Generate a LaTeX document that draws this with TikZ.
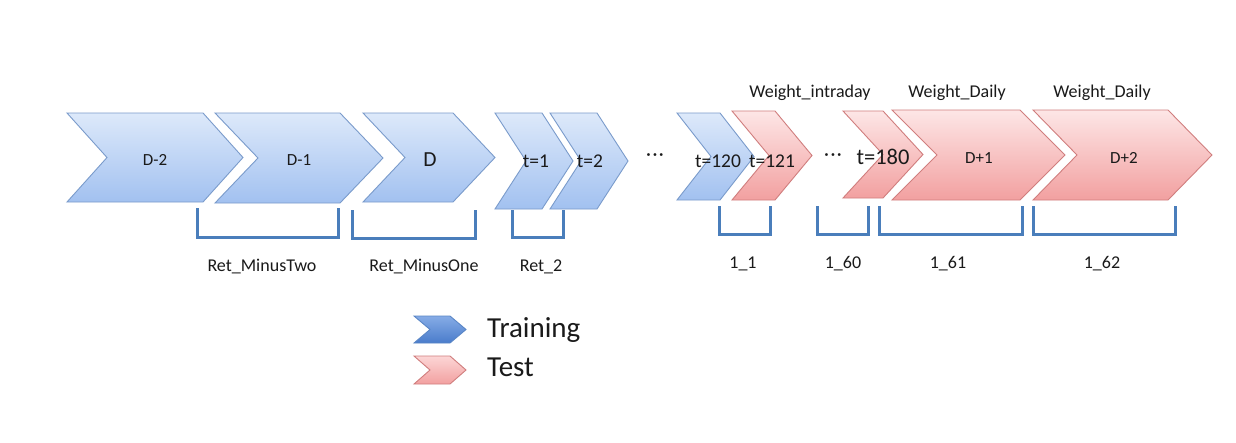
\documentclass[tikz,border=0pt]{standalone}
\usepackage{fontspec}
\setmainfont{Carlito}
\begin{document}
\begin{tikzpicture}[x=1pt,y=-1pt,
  bluechev/.style={draw=chevBlueLine, line width=0.9pt, top color=chevBlueTop, bottom color=chevBlueBot},
  redchev/.style={draw=chevRedLine, line width=0.9pt, top color=chevRedTop, bottom color=chevRedBot},
  legblue/.style={draw=legBlueLine, line width=0.9pt, top color=legBlueTop, bottom color=legBlueBot},
  legred/.style={draw=chevRedLine, line width=0.9pt, top color=legRedTop, bottom color=chevRedBot},
  bracket/.style={draw=brk, line width=3pt},
  lbl/.style={font=\fontsize{18}{20}\selectfont, text=txt, inner sep=0pt},
  inlbl/.style={font=\fontsize{17}{19}\selectfont, text=txt, inner sep=0pt},
  tlbl/.style={font=\fontsize{19.5}{21}\selectfont, text=txt, inner sep=0pt},
  leglbl/.style={font=\fontsize{29}{31}\selectfont, text=txt, inner sep=0pt, anchor=west}]
\definecolor{chevBlueLine}{HTML}{7A9BCB}
\definecolor{chevBlueTop}{HTML}{DDE9FA}
\definecolor{chevBlueBot}{HTML}{A2C1F0}
\definecolor{legBlueLine}{HTML}{5A86C6}
\definecolor{legBlueTop}{HTML}{86ACE6}
\definecolor{legBlueBot}{HTML}{4A7CCB}
\definecolor{chevRedLine}{HTML}{D07E7E}
\definecolor{chevRedTop}{HTML}{FDE6E6}
\definecolor{chevRedBot}{HTML}{F2A0A0}
\definecolor{legRedTop}{HTML}{FCD6D6}
\definecolor{brk}{HTML}{4A7EBB}
\definecolor{txt}{HTML}{1A1A1A}
\newcommand\mychev[6]{% xl, xr, depth, top, bottom, style
  \path[#6] (#1,#4) -- (#2,#4) -- ({#2+#3},{(#4+#5)/2}) -- (#2,#5) -- (#1,#5) -- ({#1+#3},{(#4+#5)/2}) -- cycle;}
\newcommand\mybrk[4]{% xl, xr, top, bottom
  \draw[bracket] (#1,#3) -- (#1,#4) -- (#2,#4) -- (#2,#3);}
\newcommand\middots{\textperiodcentered\kern1.5pt\textperiodcentered\kern1.5pt\textperiodcentered}
\useasboundingbox[fill=white] (0,0) rectangle (1236,442);
% chevrons
\mychev{67}{203}{40}{113}{202}{bluechev}
\mychev{215}{340}{43}{113}{203}{bluechev}
\mychev{363}{453}{42}{113}{202}{bluechev}
\mychev{495}{542}{31}{113}{209}{bluechev}
\mychev{550}{597}{31}{113}{209}{bluechev}
\mychev{677}{720}{34}{113}{200}{bluechev}
\mychev{732}{775}{37}{111}{200}{redchev}
\mychev{843}{883}{40}{111}{198}{redchev}
\mychev{892}{1020}{45}{110}{200}{redchev}
\mychev{1033}{1168}{44}{110}{200}{redchev}
% chevron texts
\node[inlbl] (dm2) at (155,160) {D-2};
\node[inlbl] (dm1) at (299,160) {D-1};
\node[font=\fontsize{21.5}{23}\selectfont, text=txt, inner sep=0pt] (d0) at (430,160) {D};
\node[tlbl] (t1) at (536,161) {t=1};
\node[tlbl] (t2) at (590,161) {t=2};
\node[tlbl] (dots1) at (655,157) {\middots};
\node[tlbl] (t120) at (718,161) {t=120};
\node[tlbl] (t121) at (772,161) {t=121};
\node[tlbl] (dots2) at (833,157) {\middots};
\node[font=\fontsize{22.5}{24}\selectfont, text=txt, inner sep=0pt] (t180) at (883,157) {t=180};
\node[inlbl] (dp1) at (979,158) {D+1};
\node[inlbl] (dp2) at (1124,158) {D+2};
% top labels
\node[lbl] (wi) at (810,93) {Weight\_intraday};
\node[lbl] (wd1) at (957,93) {Weight\_Daily};
\node[lbl] (wd2) at (1102,93) {Weight\_Daily};
% brackets
\mybrk{197}{338}{208}{237}
\mybrk{352}{475}{210}{238}
\mybrk{512}{563}{210}{237}
\mybrk{719}{770}{206}{234}
\mybrk{817}{868}{206}{234}
\mybrk{879}{1022}{206}{234}
\mybrk{1033}{1175}{206}{234}
% bracket labels
\node[lbl] (r2) at (262,267) {Ret\_MinusTwo};
\node[lbl] (r1) at (424,267) {Ret\_MinusOne};
\node[lbl] (rt2) at (541,267) {Ret\_2};
\node[lbl] (l11) at (743,264) {1\_1};
\node[lbl] (l160) at (843,264) {1\_60};
\node[lbl] (l161) at (948,264) {1\_61};
\node[lbl] (l162) at (1102,264) {1\_62};
% legend
\mychev{414}{450}{16}{316}{343}{legblue}
\mychev{414}{450}{16}{356}{384}{legred}
\node[leglbl] (train) at (487,330) {Training};
\node[leglbl] (test) at (487,367) {Test};
\end{tikzpicture}
\end{document}
